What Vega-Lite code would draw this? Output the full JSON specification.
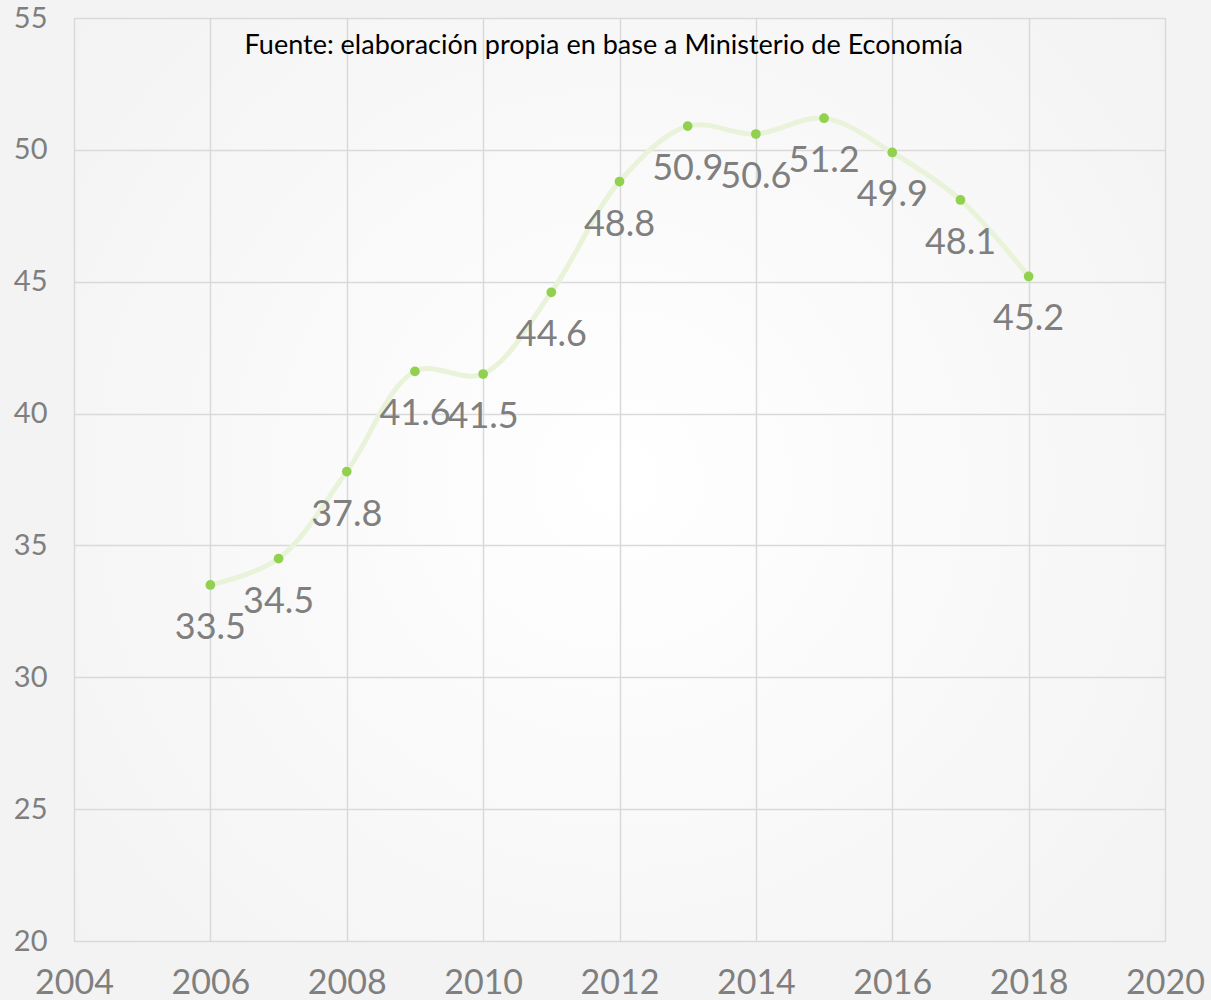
{
  "$schema": "https://vega.github.io/schema/vega-lite/v6.json",
  "width": 1091,
  "height": 923,
  "autosize": {"type": "none"},
  "padding": {"left": 74, "top": 18, "right": 46, "bottom": 59},
  "background": "#f3f3f3",
  "config": {
    "font": "Lato",
    "view": {
      "stroke": null,
      "fill": {
        "gradient": "radial",
        "x1": 0.5, "y1": 0.5, "r1": 0,
        "x2": 0.5, "y2": 0.5, "r2": 0.75,
        "stops": [{"offset": 0, "color": "#ffffff"}, {"offset": 1, "color": "#f1f1f1"}]
      }
    }
  },
  "data": {
    "values": [
      {"year": 2006, "value": 33.5},
      {"year": 2007, "value": 34.5},
      {"year": 2008, "value": 37.8},
      {"year": 2009, "value": 41.6},
      {"year": 2010, "value": 41.5},
      {"year": 2011, "value": 44.6},
      {"year": 2012, "value": 48.8},
      {"year": 2013, "value": 50.9},
      {"year": 2014, "value": 50.6},
      {"year": 2015, "value": 51.2},
      {"year": 2016, "value": 49.9},
      {"year": 2017, "value": 48.1},
      {"year": 2018, "value": 45.2}
    ]
  },
  "encoding": {
    "x": {
      "field": "year",
      "type": "quantitative",
      "scale": {"domain": [2004, 2020], "nice": false, "zero": false},
      "axis": {
        "title": null,
        "values": [2004, 2006, 2008, 2010, 2012, 2014, 2016, 2018, 2020],
        "format": "d",
        "domain": false,
        "ticks": false,
        "labelFlush": false,
        "labelPadding": 25,
        "labelFontSize": 34,
        "labelColor": "#7f7f7f",
        "gridColor": "#d9d9d9",
        "gridWidth": 1.5
      }
    },
    "y": {
      "field": "value",
      "type": "quantitative",
      "scale": {"domain": [20, 55], "nice": false, "zero": false},
      "axis": {
        "title": null,
        "values": [20, 25, 30, 35, 40, 45, 50, 55],
        "domain": false,
        "ticks": false,
        "labelFlush": false,
        "labelPadding": 27,
        "labelFontSize": 29,
        "labelColor": "#7f7f7f",
        "gridColor": "#d9d9d9",
        "gridWidth": 1.5
      }
    }
  },
  "layer": [
    {
      "mark": {"type": "line", "interpolate": "catmull-rom", "color": "#e8f3d9", "strokeWidth": 5}
    },
    {
      "mark": {"type": "point", "filled": true, "color": "#92d050", "size": 95, "opacity": 1}
    },
    {
      "mark": {"type": "text", "fontSize": 36, "color": "#7f7f7f", "baseline": "alphabetic", "align": "center", "dy": 54},
      "encoding": {"text": {"field": "value", "type": "quantitative", "format": ".1f"}}
    },
    {
      "data": {"values": [{"year": 2011.77, "value": 53.93, "label": "Fuente: elaboración propia en base a Ministerio de Economía"}]},
      "mark": {"type": "text", "fontSize": 27, "color": "#000000", "baseline": "middle", "align": "center"},
      "encoding": {
        "text": {"field": "label", "type": "nominal"}
      }
    }
  ]
}
